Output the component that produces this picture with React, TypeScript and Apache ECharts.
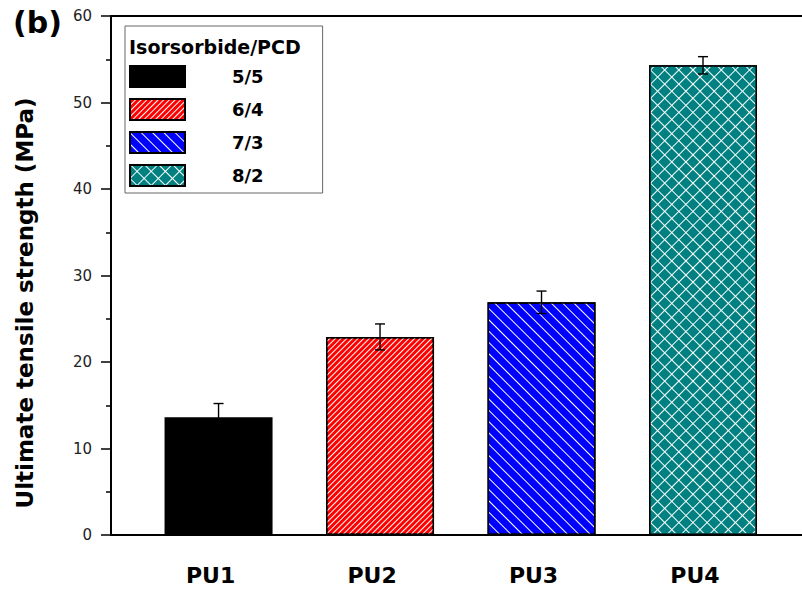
import React, { useEffect, useRef } from 'react';
import * as echarts from 'echarts';

// Sample labels and the isosorbide/PCD ratio of each formulation
const categories = ['PU1', 'PU2', 'PU3', 'PU4'];
const ratios = ['5/5', '6/4', '7/3', '8/2'];
// Ultimate tensile strength (MPa) and its standard deviation
const strength = [13.6, 22.9, 26.9, 54.3];
const strengthErr = [1.6, 1.5, 1.3, 1.0];

const FONT = '"DejaVu Sans", "Open Sans", sans-serif';

// Fill and hatch decal for each ratio
const fills = ['#000000', '#ff0000', '#0000ff', '#ffffff'];
const decals: any[] = [
  null,
  { symbol: 'rect', symbolSize: 1, color: '#ffffff', dashArrayX: [1, 0], dashArrayY: [1, 3], rotation: -Math.PI / 4 },
  { symbol: 'rect', symbolSize: 1, color: '#ffffff', dashArrayX: [1, 0], dashArrayY: [1, 7], rotation: Math.PI / 4 },
  { symbol: 'rect', symbolSize: 1, color: '#008080', dashArrayX: [9, 1], dashArrayY: [9, 1], rotation: Math.PI / 4 },
];

const X_MIN = 0.334;
const X_MAX = 4.613;

export default function App() {
  const ref = useRef<HTMLDivElement>(null);

  useEffect(() => {
    document.body.style.margin = '0';
    const chart = echarts.init(ref.current!, null, { renderer: 'svg' });

    const barSeries = ratios.map((name, i) => {
      const itemStyle: any = { color: fills[i], borderColor: '#000', borderWidth: 1.5 };
      if (decals[i]) itemStyle.decal = decals[i];
      return {
        type: 'bar',
        name,
        barWidth: 108,
        barGap: '-100%',
        itemStyle,
        data: [[i + 1, strength[i]]],
        z: 2,
      };
    });

    const errorSeries = {
      type: 'custom',
      name: 'sd',
      z: 10,
      encode: { x: 0, y: [1, 2] },
      data: strength.map((v, i) => [i + 1, v - strengthErr[i], v + strengthErr[i]]),
      renderItem: (_params: any, api: any) => {
        const x = api.value(0);
        const lo = api.coord([x, api.value(1)]);
        const hi = api.coord([x, api.value(2)]);
        const half = 5;
        const style = { stroke: '#000', lineWidth: 1.4 };
        return {
          type: 'group',
          children: [
            { type: 'line', shape: { x1: lo[0], y1: lo[1], x2: hi[0], y2: hi[1] }, style },
            { type: 'line', shape: { x1: hi[0] - half, y1: hi[1], x2: hi[0] + half, y2: hi[1] }, style },
            { type: 'line', shape: { x1: lo[0] - half, y1: lo[1], x2: lo[0] + half, y2: lo[1] }, style },
          ],
        };
      },
    };

    chart.setOption({
      animation: false,
      backgroundColor: '#ffffff',
      title: [
        { text: '(b)', left: 8, top: 2, padding: 5, textStyle: { fontFamily: FONT, fontSize: 30, fontWeight: 'bold', color: '#000' } },
        { text: 'Isorsorbide/PCD', left: 129, top: 37, padding: 0, textStyle: { fontFamily: FONT, fontSize: 19, fontWeight: 'bold', color: '#000' } },
      ],
      legend: {
        data: ratios,
        icon: 'rect',
        orient: 'vertical',
        left: 125,
        top: 26,
        padding: [39, 59, 6, 4],
        itemWidth: 55,
        itemHeight: 21,
        itemGap: 10,
        borderColor: '#666',
        borderWidth: 1,
        selectedMode: false,
        textStyle: { fontFamily: FONT, fontSize: 18, fontWeight: 'bold', color: '#000', padding: [0, 0, 0, 42] },
      },
      grid: { left: 111, right: 0, top: 16, bottom: 58, containLabel: false },
      xAxis: [
        {
          type: 'value',
          position: 'bottom',
          min: X_MIN,
          max: X_MAX,
          axisLine: { show: true, onZero: false, lineStyle: { color: '#000', width: 2 } },
          axisTick: { show: false },
          splitLine: { show: false },
          axisLabel: {
            customValues: [1, 2, 3, 4],
            formatter: (v: number) => categories[Math.round(v) - 1] ?? '',
            fontFamily: FONT,
            fontSize: 22,
            fontWeight: 'bold',
            color: '#000',
            margin: 29,
            padding: [0, 16, 0, 0],
          },
        },
        {
          type: 'value',
          position: 'top',
          min: X_MIN,
          max: X_MAX,
          axisLine: { show: true, onZero: false, lineStyle: { color: '#000', width: 2 } },
          axisTick: { show: false },
          splitLine: { show: false },
          axisLabel: { show: false },
        },
      ],
      yAxis: {
        type: 'value',
        min: 0,
        max: 60,
        interval: 10,
        axisLine: { show: true, lineStyle: { color: '#000', width: 2 } },
        axisTick: { show: true, inside: false, length: 10, lineStyle: { color: '#000', width: 1.5 } },
        minorTick: { show: true, splitNumber: 2, length: 5, lineStyle: { color: '#000', width: 1.5 } },
        splitLine: { show: false },
        minorSplitLine: { show: false },
        axisLabel: { fontFamily: FONT, fontSize: 15, color: '#222', margin: 19 },
      },
      graphic: [
        {
          type: 'text',
          x: 25,
          y: 303,
          rotation: Math.PI / 2,
          style: {
            text: 'Ultimate tensile strength (MPa)',
            fontFamily: FONT,
            fontSize: 23,
            fontWeight: 'bold',
            fill: '#000',
            align: 'center',
            verticalAlign: 'middle',
          },
        },
      ],
      series: [...barSeries, errorSeries],
    });

    return () => chart.dispose();
  }, []);

  return <div ref={ref} style={{ width: 802, height: 593 }} />;
}
